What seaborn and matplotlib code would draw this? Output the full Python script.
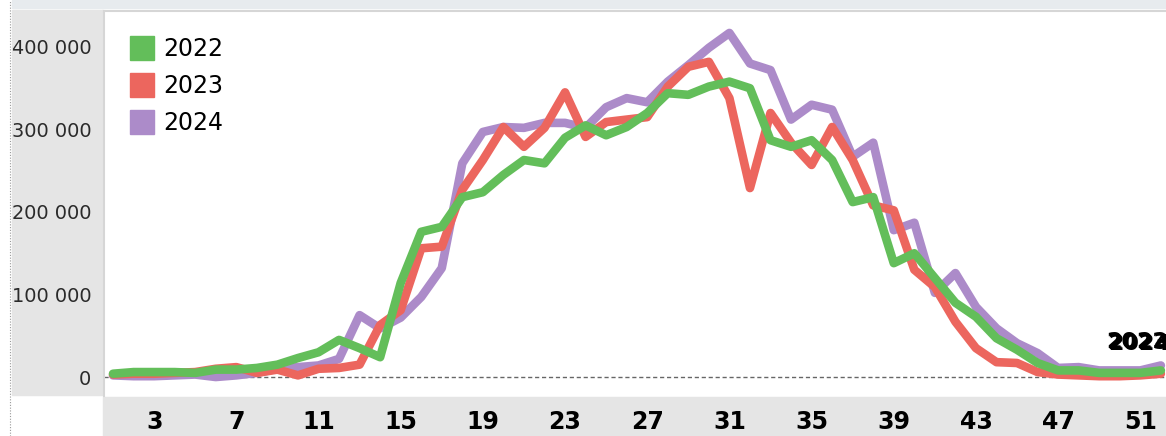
import pandas as pd
import matplotlib.pyplot as plt
import seaborn as sns
from matplotlib.lines import Line2D
from matplotlib.patches import Rectangle
from matplotlib.ticker import FuncFormatter

# Data: weekly values per year
weeks = list(range(1, 53))
cases_2022 = [4000, 6000, 6000, 6000, 5000, 9000, 9000, 11000, 15000, 23000,
              30000, 45000, 35000, 24000, 114000, 176000, 182000, 218000, 224000, 245000,
              263000, 259000, 290000, 305000, 293000, 303000, 320000, 344000, 342000, 352000,
              358000, 350000, 287000, 279000, 287000, 263000, 212000, 218000, 138000, 150000,
              120000, 90000, 73000, 47000, 33000, 17000, 8000, 8000, 5000, 5000,
              5000, 8000]
cases_2023 = [3000, 4000, 4000, 5000, 6000, 10000, 12000, 5000, 9000, 2000,
              10000, 11000, 15000, 63000, 81000, 156000, 158000, 227000, 263000, 303000,
              279000, 302000, 345000, 291000, 309000, 312000, 315000, 352000, 376000, 382000,
              338000, 229000, 320000, 284000, 257000, 303000, 263000, 208000, 202000, 130000,
              109000, 67000, 35000, 18000, 17000, 6000, 3000, 2000, 1000, 1000,
              2000, 4000]
cases_2024 = [2000, 1000, 1000, 2000, 3000, 0, 2000, 5000, 10000, 12000,
              14000, 22000, 75000, 59000, 72000, 97000, 132000, 259000, 297000, 303000,
              302000, 308000, 308000, 302000, 327000, 338000, 333000, 358000, 378000, 399000,
              417000, 380000, 372000, 312000, 330000, 324000, 267000, 284000, 178000, 187000,
              102000, 126000, 85000, 59000, 41000, 29000, 11000, 12000, 8000, 8000,
              8000, 14000]
years = ["2022", "2023", "2024"]
colors = {"2022": "#63be5a", "2023": "#ec665e", "2024": "#ac8bc9"}
ytick_values = [0, 100000, 200000, 300000, 400000]
xtick_labels = list(range(3, 52, 4))

df = pd.concat([
    pd.DataFrame({"week": weeks, "cases": cases_2022, "year": "2022"}),
    pd.DataFrame({"week": weeks, "cases": cases_2023, "year": "2023"}),
    pd.DataFrame({"week": weeks, "cases": cases_2024, "year": "2024"}),
])

sns.set_style("white")
plt.rcParams["font.family"] = ["DejaVu Sans"]

fig = plt.figure(figsize=(11.66, 4.36), dpi=100)
W, H = 1166, 436

# background panels (behind the axes)
fig.patches.append(Rectangle((12 / W, 1 - 8 / H), 1, 8 / H, transform=fig.transFigure,
                             color="#e7ebee", zorder=-5))
fig.patches.append(Rectangle((12 / W, 1 - 395 / H), 91 / W, 385 / H, transform=fig.transFigure,
                             color="#e5e5e5", zorder=-5))
fig.patches.append(Rectangle((103 / W, 0), 1, 39 / H, transform=fig.transFigure,
                             color="#e5e5e5", zorder=-5))
fig.lines.append(Line2D([10 / W, 10 / W], [0, 1], transform=fig.transFigure,
                        color="#999999", lw=0.8, ls=(0, (1, 1.5)), zorder=-5))

ax = fig.add_axes([104 / W, 40 / H, 1062 / W, 385 / H])

# draw 2024 first so 2022 sits on top
sns.lineplot(data=df, x="week", y="cases", hue="year", hue_order=["2024", "2023", "2022"],
             palette=colors, linewidth=6.2, solid_joinstyle="round", solid_capstyle="round",
             legend=False, ax=ax)

ax.axhline(0, color="#666666", lw=1, ls=(0, (3, 2)), zorder=0)
ax.set_xlim(0.56, 52.25)
ax.set_ylim(-23000, 443600)

for s in ["right", "bottom"]:
    ax.spines[s].set_visible(False)
for s in ["top", "left"]:
    ax.spines[s].set_color("#d6d6d6")
    ax.spines[s].set_linewidth(1.5)

ax.set_yticks(ytick_values)
ax.yaxis.set_major_formatter(FuncFormatter(lambda v, p: f"{int(v):,}".replace(",", " ")))
ax.tick_params(axis="y", length=5, color="#cccccc", labelsize=13.9, labelcolor="#2a2a2a", pad=4)
ax.set_xticks(xtick_labels)
ax.set_xticks(weeks, minor=True)
ax.tick_params(axis="x", which="both", length=4, color="#cccccc", pad=6, labelcolor="black")
ax.tick_params(axis="x", which="major", labelsize=17)
for lbl in ax.get_xticklabels():
    lbl.set_fontweight("bold")
ax.set_xlabel("")
ax.set_ylabel("")

# overlapping end labels, cut by the right edge as in the original
for i, y in enumerate(years):
    ax.text(49.35 + i * 0.05, 42000 - i * 800, y, fontsize=16, fontweight="bold",
            ha="left", va="center", color="black", clip_on=False)

handles = [Line2D([], [], marker="s", linestyle="", markersize=17, color=colors[y]) for y in years]
leg = ax.legend(handles, years, loc="upper left", bbox_to_anchor=(0.0156, 0.956), frameon=False,
                fontsize=17, labelspacing=0.55, handlelength=1.0, handletextpad=0.4,
                borderaxespad=0)
for t in leg.get_texts():
    t.set_color("black")

fig.savefig("out.png", dpi=100)
